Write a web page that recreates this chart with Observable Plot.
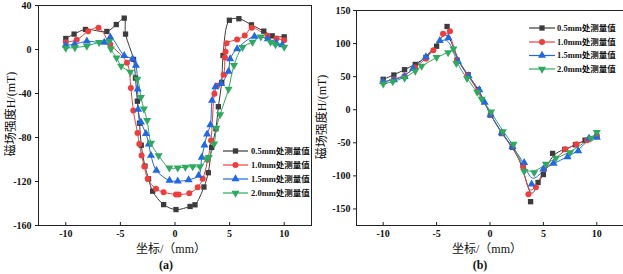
<!DOCTYPE html>
<html>
<head>
<meta charset="utf-8">
<script src="https://cdn.jsdelivr.net/npm/d3@7"></script>
<script src="https://cdn.jsdelivr.net/npm/@observablehq/plot@0.6"></script>
<style>
  html, body { margin: 0; padding: 0; background: #fff; }
  #root { position: relative; width: 623px; height: 274px; background: #fff; overflow: hidden; }
  #root > svg { position: absolute; top: 0; }
</style>
</head>
<body>
<div id="root"></div>
<script>
// ---------- data ----------
const seriesNames = ["0.5mm处测量值", "1.0mm处测量值", "1.5mm处测量值", "2.0mm处测量值"];
const xTicks = [-10, -5, 0, 5, 10];
const yTicksA = [-160, -120, -80, -40, 0, 40];
const yTicksB = [-150, -100, -50, 0, 50, 100, 150];
const xLabel = "坐标/（mm）";
const yLabel = "磁场强度H/(mT)";
const panelNames = ["(a)", "(b)"];

// panel (a)
const a05x = [-10, -9.24, -8.2, -6.24, -5.38, -4.65, -4.53, -3.8, -3.62, -3.45, -3.25, -3.09, -2.75, -2.42, -2.05, -1.04, 0.09, 1.38, 1.83, 2.65, 3.05, 3.36, 3.75, 3.97, 4.28, 4.4, 4.98, 5.85, 7.0, 8.13, 8.9, 10];
const a05y = [10, 14, 18.2, 16.4, 22.7, 28.5, 14, -9, -26, -47, -67, -87, -106, -117.6, -128.8, -141, -145.5, -142.7, -141.2, -125, -112, -89, -72, -52, -30, -5.5, 26.6, 28, 22.4, 16.7, 12.4, 11.5];
const a10x = [-10, -9.0, -7.95, -7.0, -5.93, -4.4, -4.04, -3.82, -3.43, -3.27, -3.06, -2.81, -2.5, -1.74, -1.04, 0.09, 0.34, 1.31, 2.08, 2.54, 3.0, 3.3, 3.61, 3.85, 4.45, 4.57, 4.63, 4.72, 5.69, 6.39, 7.03, 8.47, 9.3, 10];
const a10y = [6.5, 8.8, 16.5, 19.7, 4.8, -12, -35, -55.4, -76, -85.8, -96.4, -106.4, -117.6, -126.7, -129.7, -131.8, -131.8, -130.6, -125.2, -117.6, -100.3, -82.7, -40.3, -33, -23, -7.3, -2, 5.7, 9, 12.7, 19.7, 12.5, 10, 8.5];
const a15x = [-10, -9.2, -8.07, -6.48, -5.93, -4.65, -3.88, -3.58, -3.42, -3.38, -3.12, -2.66, -2.4, -2.2, -1.7, -0.5, 0.25, 1.25, 2.17, 2.45, 2.7, 2.94, 3.24, 3.39, 3.7, 4.22, 4.9, 5.05, 5.69, 7.28, 8.5, 9.27, 9.82];
const a15y = [4, 4.8, 7.5, 6.5, 11.2, -5.5, -8.6, -14.5, -36, -54.5, -66, -76.5, -86, -96.4, -110, -119.1, -119.7, -118.5, -114.5, -98, -87, -77, -68.5, -46.4, -34, -31, -20, -8.5, 0.6, 12, 9.7, 6, 4.2];
const a20x = [-10, -9.17, -8.07, -6.95, -6.02, -5.87, -5.35, -4.93, -4.1, -3.45, -3.12, -2.85, -2.55, -2.2, -1.5, -0.52, 0.25, 0.95, 1.62, 2.29, 2.9, 3.1, 3.58, 3.79, 4.13, 4.9, 5.4, 6.18, 7.1, 7.86, 8.75, 9.2, 10];
const a20y = [1.2, 1.8, 3.2, 6.5, 7.5, 0.5, -7.6, -15, -20.5, -27, -43.5, -54, -64.5, -85, -96.4, -107.6, -107.6, -107, -106.4, -106.4, -99.4, -98, -85.8, -71.5, -59.2, -36, -14.5, 2, 6.7, 11.5, 6.7, 4.4, 2.1];

// panel (b)
const b05x = [-10, -9, -8, -7, -6, -5, -4.02, -3.08, -2.05, -1.09, 0.05, 1.1, 2.1, 3.1, 3.8, 4.5, 5.0, 5.86, 7.0, 8.0, 8.9, 10];
const b05y = [46, 52.5, 60.5, 68.5, 79, 96, 125.8, 75, 53, 30.5, -8, -36, -57, -85, -139, -110, -98, -66, -60, -53, -46, -40];
const b10x = [-10, -9, -8, -7, -6, -5.3, -4.4, -3.75, -3.08, -2.1, -1.1, 0.05, 1.1, 2.1, 3.1, 3.6, 4.3, 5.05, 7.04, 8.1, 9.1, 10];
const b10y = [41.5, 46, 51, 64, 77, 90, 115, 118.7, 74, 52, 29, -8, -35, -56, -85, -127.7, -117, -90, -59.6, -52, -46, -40];
const b15x = [-10, -9, -8, -7.2, -6, -4.7, -3.9, -3.0, -2.0, -1.0, -0.5, 0.05, 1.1, 2.1, 3.2, 3.9, 5.0, 5.95, 7.26, 8.26, 9.28, 10];
const b15y = [42.5, 45, 50, 62.6, 80, 104.5, 108.6, 73, 51, 30, 11, -8, -35, -56, -80, -112.6, -90, -81.3, -71.2, -62.1, -43.4, -42];
const b20x = [-10, -9.1, -8, -7, -6.4, -5.0, -3.92, -3.42, -3.15, -2.15, -1.2, -0.78, 0.1, 1.2, 2.2, 3.2, 4.14, 5.23, 6.17, 7.5, 9.44, 10];
const b20y = [39, 42.5, 48, 58.5, 66, 79.3, 86.5, 92, 70, 47.5, 26.5, 16, -3, -33, -52, -93, -95, -82, -73, -64.6, -43, -34.3];

// ---------- styling ----------
const colors = ["#3c3c3c", "#f23c3c", "#1f68e6", "#2eaa5e"];
const FONT = "'Liberation Serif', 'Times New Roman', 'Noto Sans CJK SC', serif";
const triDown = {
  draw(ctx, size) {
    const k = Math.sqrt(size / (Math.sqrt(3) * 3));
    ctx.moveTo(0, 2 * k);
    ctx.lineTo(-Math.sqrt(3) * k, -k);
    ctx.lineTo(Math.sqrt(3) * k, -k);
    ctx.closePath();
  }
};
const plotSymbols = ["square", "circle", "triangle", triDown];
const d3Symbols = [d3.symbolSquare, d3.symbolCircle, d3.symbolTriangle, triDown];

function rows(xs, ys) { return xs.map((x, i) => ({x, y: ys[i]})); }
const seriesA = [rows(a05x, a05y), rows(a10x, a10y), rows(a15x, a15y), rows(a20x, a20y)];
const seriesB = [rows(b05x, b05y), rows(b10x, b10y), rows(b15x, b15y), rows(b20x, b20y)];

const fmt = d => String(d);

function seriesMarks(series, curve) {
  const m = [];
  series.forEach((data, i) => {
    m.push(Plot.line(data, {x: "x", y: "y", stroke: colors[i], strokeWidth: 1, curve}));
  });
  series.forEach((data, i) => {
    m.push(Plot.dot(data, {x: "x", y: "y", fill: colors[i], stroke: "none", symbol: plotSymbols[i], r: 3}));
  });
  return m;
}

const root = document.getElementById("root");
const axisStyle = {fontFamily: FONT, fontSize: "10px", fontWeight: "bold", color: "#111", background: "transparent"};

// Panel (a)
const plotA = Plot.plot({
  width: 320, height: 274,
  marginLeft: 38, marginRight: 9, marginTop: 5, marginBottom: 49,
  style: axisStyle,
  x: {domain: [-12.5, 12.5]},
  y: {domain: [-160, 40]},
  marks: [
    ...seriesMarks(seriesA, "catmull-rom"),
    Plot.frame({stroke: "#222"}),
    Plot.axisX(xTicks, {tickSize: -3, tickPadding: 7, tickFormat: fmt, label: null, stroke: "#222"}),
    Plot.axisY(yTicksA, {tickSize: 3, tickPadding: 4, tickFormat: fmt, label: null, stroke: "#222"})
  ]
});
plotA.style.left = "0px";
root.appendChild(plotA);

// Panel (b)
const plotB = Plot.plot({
  width: 313, height: 274,
  marginLeft: 46, marginRight: 0, marginTop: 10, marginBottom: 49,
  style: axisStyle,
  x: {domain: [-12.5, 12.5]},
  y: {domain: [-175, 150]},
  marks: [
    ...seriesMarks(seriesB, "basis"),
    Plot.ruleY([150, -175], {stroke: "#222"}),
    Plot.ruleX([-12.5], {stroke: "#222"}),
    Plot.axisX(xTicks, {tickSize: -3, tickPadding: 7, tickFormat: fmt, label: null, stroke: "#222"}),
    Plot.axisY(yTicksB, {tickSize: 3, tickPadding: 3, tickFormat: fmt, label: null, stroke: "#222"})
  ]
});
plotB.style.left = "310px";
root.appendChild(plotB);

// ---------- overlay: legends and labels ----------
const ov = d3.select(root).append("svg")
  .attr("width", 623).attr("height", 274)
  .style("left", "0px").style("top", "0px")
  .style("font-family", FONT);

function legend(x0, x1, xt, ys) {
  seriesNames.forEach((name, i) => {
    const y = ys[i];
    ov.append("line").attr("x1", x0).attr("x2", x1).attr("y1", y).attr("y2", y)
      .attr("stroke", colors[i]).attr("stroke-width", 1.2);
    ov.append("path").attr("d", d3.symbol().type(d3Symbols[i]).size(28)())
      .attr("transform", `translate(${(x0 + x1) / 2},${y})`).attr("fill", colors[i]);
    ov.append("text").attr("x", xt).attr("y", y).attr("dy", "0.35em")
      .attr("font-size", 8.5).attr("font-weight", "bold").attr("fill", "#111").text(name);
  });
}
legend(223, 248, 251, [151, 165, 179, 193]);
legend(529, 555, 557, [28, 42, 55.5, 69]);

function yTitle(x, y) {
  ov.append("text").attr("transform", `translate(${x},${y}) rotate(-90)`)
    .attr("text-anchor", "middle").attr("dy", "0.35em")
    .attr("font-size", 12).attr("fill", "#111").text(yLabel);
}
yTitle(11, 114);
yTitle(322, 117);

function xTitle(x, y, name, nx) {
  ov.append("text").attr("x", x).attr("y", y).attr("text-anchor", "middle").attr("dy", "0.35em")
    .attr("font-size", 12).attr("fill", "#111").text(xLabel);
  ov.append("text").attr("x", nx).attr("y", y + 16).attr("text-anchor", "middle").attr("dy", "0.35em")
    .attr("font-size", 12).attr("font-weight", "bold").attr("fill", "#111").text(name);
}
xTitle(171, 249, panelNames[0], 166);
xTitle(487, 249, panelNames[1], 480);
</script>
</body>
</html>
